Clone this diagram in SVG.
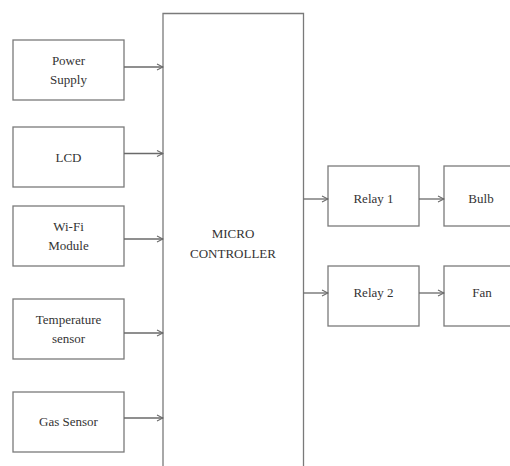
<svg xmlns="http://www.w3.org/2000/svg" width="510" height="466" viewBox="0 0 510 466">
<style>
.box{fill:#fff;stroke:#7a7a7a;stroke-width:1.3}
.t{font-size:13px;fill:#333;text-anchor:middle}
.c{stroke:#6a6a6a;stroke-width:1.3;fill:none}
</style>
<defs>
<marker id="ah" viewBox="0 0 8 8" refX="7" refY="4" markerWidth="8" markerHeight="8" markerUnits="userSpaceOnUse" orient="auto">
<path d="M1,1 L7,4 L1,7" fill="none" stroke="#6a6a6a" stroke-width="1.1"/>
</marker>
</defs>
<rect width="510" height="466" fill="#fff"/>
<g font-family="Liberation Serif, DejaVu Serif, serif">
<g id="controller">
<path class="box" d="M163,470 L163,13.5 L303.5,13.5 L303.5,470"/>
<text class="t" x="233" y="238">MICRO</text>
<text class="t" x="233" y="258">CONTROLLER</text>
</g>
<g id="power-supply">
<rect class="box" x="13" y="40" width="111" height="60"/>
<text class="t" x="68.5" y="65">Power</text>
<text class="t" x="68.5" y="84">Supply</text>
</g>
<g id="lcd">
<rect class="box" x="13" y="127" width="111" height="60"/>
<text class="t" x="68.5" y="162">LCD</text>
</g>
<g id="wifi">
<rect class="box" x="13" y="206" width="111" height="60"/>
<text class="t" x="68.5" y="231">Wi-Fi</text>
<text class="t" x="68.5" y="250">Module</text>
</g>
<g id="temperature">
<rect class="box" x="13" y="299" width="111" height="60"/>
<text class="t" x="68.5" y="324">Temperature</text>
<text class="t" x="68.5" y="343">sensor</text>
</g>
<g id="gas">
<rect class="box" x="13" y="392" width="111" height="60"/>
<text class="t" x="68.5" y="426">Gas Sensor</text>
</g>
<g id="relay1">
<rect class="box" x="328" y="166" width="91" height="60"/>
<text class="t" x="373.5" y="203">Relay 1</text>
</g>
<g id="relay2">
<rect class="box" x="328" y="266" width="91" height="60"/>
<text class="t" x="373.5" y="297">Relay 2</text>
</g>
<g id="bulb">
<rect class="box" x="444" y="166" width="80" height="60"/>
<text class="t" x="481" y="203">Bulb</text>
</g>
<g id="fan">
<rect class="box" x="444" y="266" width="80" height="60"/>
<text class="t" x="482" y="297">Fan</text>
</g>
</g>
<g id="connectors">
<line class="c" x1="124" y1="67" x2="163" y2="67" marker-end="url(#ah)"/>
<line class="c" x1="124" y1="153.5" x2="163" y2="153.5" marker-end="url(#ah)"/>
<line class="c" x1="124" y1="239" x2="163" y2="239" marker-end="url(#ah)"/>
<line class="c" x1="124" y1="333" x2="163" y2="333" marker-end="url(#ah)"/>
<line class="c" x1="124" y1="418" x2="163" y2="418" marker-end="url(#ah)"/>
<line class="c" x1="303.5" y1="199" x2="328" y2="199" marker-end="url(#ah)"/>
<line class="c" x1="303.5" y1="293" x2="328" y2="293" marker-end="url(#ah)"/>
<line class="c" x1="419" y1="199" x2="444" y2="199" marker-end="url(#ah)"/>
<line class="c" x1="419" y1="293" x2="444" y2="293" marker-end="url(#ah)"/>
</g>
</svg>
